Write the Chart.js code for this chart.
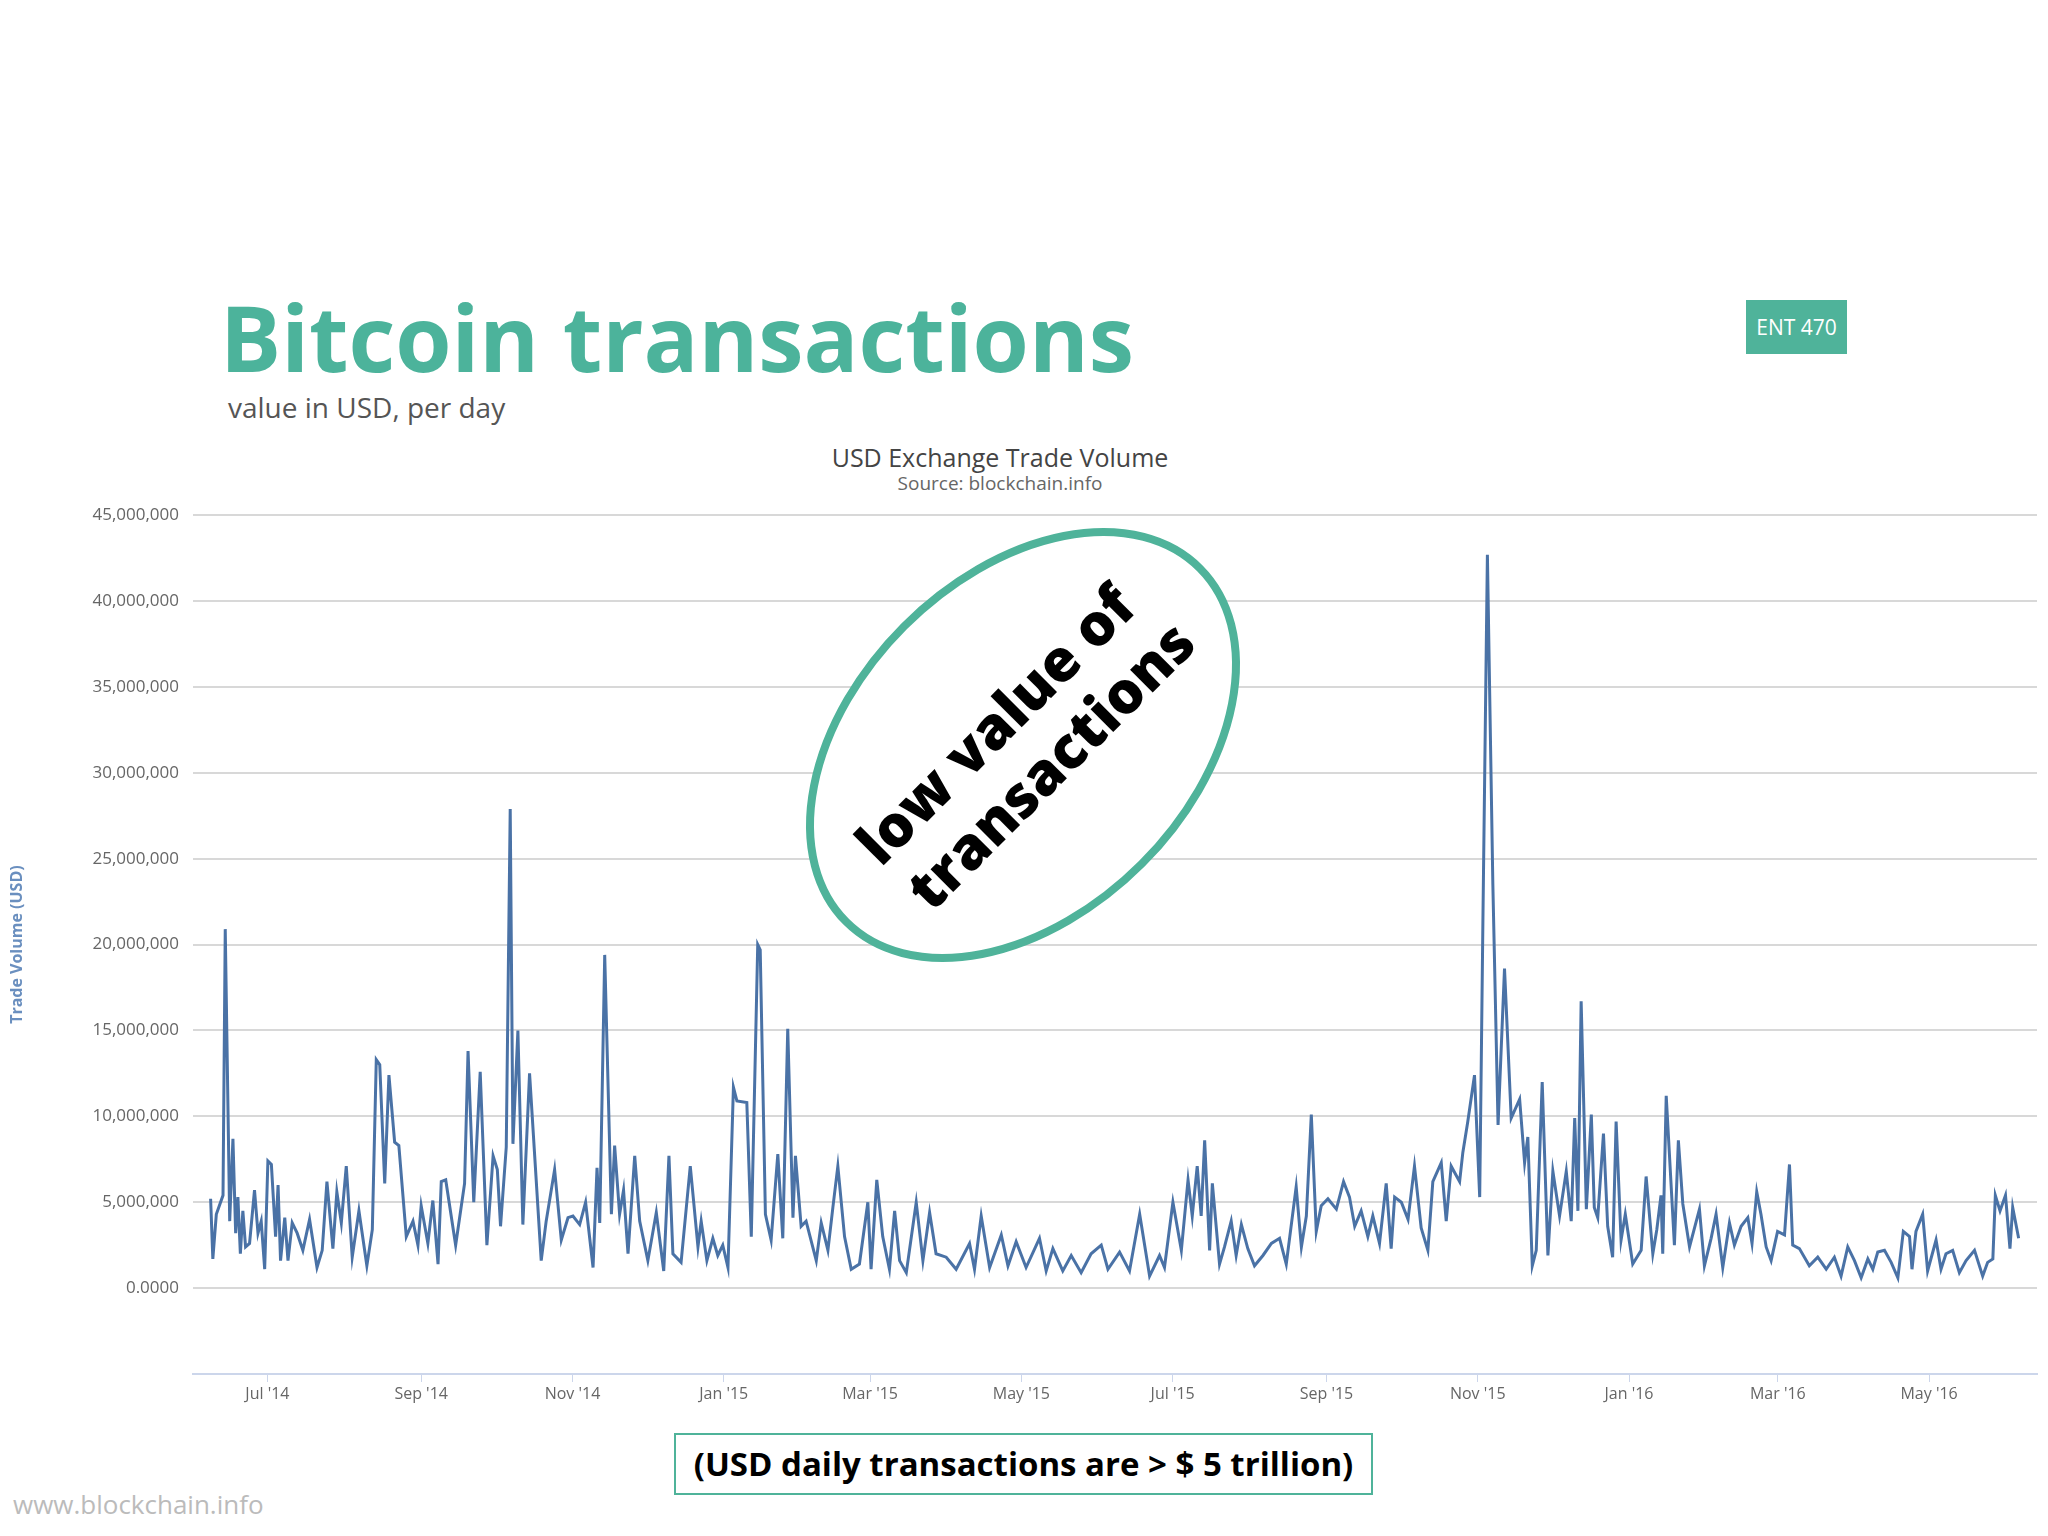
<!DOCTYPE html>
<html>
<head>
<meta charset="utf-8">
<script src="https://cdn.jsdelivr.net/npm/chart.js@4"></script>
<style>
  body { margin: 0; width: 2048px; height: 1536px; background: #fff; position: relative; font-family: "Open Sans", sans-serif; overflow: hidden; }
  .abs { position: absolute; white-space: nowrap; }
  #title { left: 220px; top: 292px; font-size: 91px; font-weight: 700; color: #4cb39b; line-height: 1; }
  #sub { left: 228px; top: 388px; font-size: 28px; color: #555; }
  #ent { left: 1746px; top: 300px; width: 101px; height: 54px; background: #4fb39a; color: #fff; font-size: 21px; line-height: 54px; text-align: center; }
  #ctitle { left: 0; width: 2000px; top: 440px; text-align: center; font-size: 25px; color: #444; }
  #csrc { left: 0; width: 2000px; top: 470px; text-align: center; font-size: 19px; color: #666; }
  #note { left: 674px; top: 1433px; width: 695px; height: 58px; border: 2px solid #4fb39a; text-align: center; font-size: 33px; font-weight: 700; line-height: 58px; color: #000; }
  #wm { left: 13px; top: 1486px; font-size: 26px; color: #bbb; }
  #wrap { position: absolute; left: 0; top: 491px; width: 2048px; height: 929px; }
</style>
</head>
<body>
<div class="abs" id="title">Bitcoin transactions</div>
<div class="abs" id="sub">value in USD, per day</div>
<div class="abs" id="ent">ENT 470</div>
<div class="abs" id="ctitle">USD Exchange Trade Volume</div>
<div class="abs" id="csrc">Source: blockchain.info</div>
<div id="wrap"><canvas id="chart"></canvas></div>
<div class="abs" id="note">(USD daily transactions are &gt; $ 5 trillion)</div>
<div class="abs" id="wm">www.blockchain.info</div>
<script>
// days since 2014-06-01
const days = [
  7.1, 8.0, 9.4, 12.1, 13.0, 14.8, 16.1, 17.2, 18.1, 19.1, 20.1, 21.2, 22.8, 24.8, 26.2, 27.5, 28.9,
  30.2, 31.6, 33.3, 34.3, 35.3, 37.0, 38.3, 40.0, 42.0, 44.3, 47.0, 50.0, 52.1, 54.0, 56.4, 58.0,
  59.8, 61.8, 64.2, 66.9, 70.1, 72.3, 73.9, 75.3, 77.3, 79.0, 81.3, 83.0, 86.0, 88.7, 90.7, 92.0,
  94.7, 96.7, 98.8, 100.1, 101.9, 105.9, 109.5, 110.9, 113.2, 115.8, 118.5, 121.0, 122.7, 124.0,
  126.3, 127.9, 129.0, 131.0, 133.0, 135.7, 140.4, 142.4, 145.8, 148.5, 151.2, 153.2, 155.9, 158.3,
  161.3, 162.9, 164.0, 166.0, 168.7, 170.0, 172.0, 173.6, 175.4, 178.1, 180.1, 183.4, 186.8, 189.8,
  191.9, 193.5, 196.8, 200.5, 203.6, 204.9, 207.2, 209.6, 211.6, 213.6, 215.7, 217.9, 219.3, 223.3,
  225.1, 227.7, 228.7, 230.8, 233.1, 235.8, 237.8, 239.8, 241.9, 242.9, 245.2, 247.2, 251.3, 253.3,
  256.0, 258.0, 260.0, 262.7, 265.4, 268.7, 272.1, 273.4, 275.7, 278.1, 280.8, 282.9, 284.9, 287.6,
  291.6, 294.3, 297.0, 299.6, 303.7, 307.7, 313.1, 315.1, 317.8, 321.2, 325.9, 328.6, 331.9, 335.9,
  341.3, 344.0, 346.7, 350.7, 354.1, 358.1, 362.1, 366.2, 368.9, 373.6, 377.6, 381.7, 385.7, 389.7,
  391.7, 395.1, 398.5, 401.2, 402.9, 404.9, 406.5, 407.9, 409.9, 411.0, 413.9, 415.9, 418.6, 420.6,
  422.7, 425.3, 428.0, 431.4, 434.8, 438.1, 440.8, 444.8, 446.9, 448.9, 450.9, 452.9, 454.9, 457.6,
  461.0, 463.9, 466.3, 468.4, 471.0, 473.7, 475.7, 478.4, 481.1, 483.1, 484.5, 487.2, 489.9, 492.5,
  495.2, 497.9, 499.9, 503.3, 505.3, 507.3, 510.7, 512.0, 514.0, 516.7, 518.8, 520.1, 521.9, 524.1,
  526.2, 528.8, 531.5, 534.9, 536.9, 538.2, 540.0, 541.6, 544.0, 546.3, 548.3, 551.0, 553.7, 555.7,
  557.1, 558.4, 559.7, 561.8, 563.8, 565.0, 566.4, 568.7, 570.4, 572.4, 573.8, 575.8, 577.5, 580.5,
  583.9, 585.9, 588.6, 590.2, 591.9, 592.6, 594.0, 597.3, 598.9, 600.7, 603.4, 607.4, 609.4, 612.1,
  614.1, 616.8, 619.5, 621.5, 624.2, 626.9, 628.6, 630.5, 632.2, 634.3, 636.3, 638.9, 641.7, 643.7,
  645.0, 647.7, 651.7, 655.1, 658.5, 661.8, 664.5, 667.2, 669.9, 672.6, 675.3, 677.3, 679.3, 682.0,
  684.7, 687.4, 689.6, 692.1, 693.1, 694.7, 697.4, 699.4, 702.8, 704.8, 706.8, 709.5, 712.2, 714.9,
  718.3, 721.6, 723.6, 725.7, 726.7, 728.6, 730.8, 732.6, 733.7, 736.1
];
// trade volume, millions of USD
const volume = [
  5.2, 1.7, 4.3, 5.4, 20.9, 3.9, 8.7, 3.2, 5.3, 2.0, 4.5, 2.4, 2.6, 5.7, 3.2, 3.9, 1.1,
  7.4, 7.2, 3.0, 6.0, 1.6, 4.1, 1.6, 3.8, 3.2, 2.2, 4.0, 1.2, 2.2, 6.2, 2.3, 5.6,
  3.8, 7.1, 1.8, 4.5, 1.3, 3.4, 13.3, 13.0, 6.1, 12.4, 8.5, 8.3, 3.0, 3.9, 2.5, 4.8,
  2.6, 5.1, 1.4, 6.2, 6.3, 2.5, 6.1, 13.8, 5.0, 12.6, 2.5, 7.7, 6.9, 3.6,
  8.2, 27.9, 8.4, 15.0, 3.7, 12.5, 1.6, 3.9, 6.9, 2.8, 4.1, 4.2, 3.7, 5.0,
  1.2, 7.0, 3.8, 19.4, 4.3, 8.3, 4.3, 5.7, 2.0, 7.7, 3.9, 1.6, 4.4, 1.0,
  7.7, 2.0, 1.5, 7.1, 2.4, 3.9, 1.6, 2.9, 1.9, 2.5, 1.2, 11.7, 10.9, 10.8,
  3.0, 20.0, 19.7, 4.3, 2.8, 7.8, 2.9, 15.1, 4.1, 7.7, 3.6, 3.9, 1.6, 3.8,
  2.2, 4.7, 7.1, 3.0, 1.1, 1.4, 5.0, 1.1, 6.3, 3.0, 1.1, 4.5, 1.6, 0.9,
  5.0, 1.6, 4.4, 2.0, 1.8, 1.1, 2.6, 1.1, 4.2, 1.2, 3.1, 1.3, 2.7, 1.2,
  2.9, 1.0, 2.3, 1.0, 1.9, 0.9, 2.0, 2.5, 1.1, 2.1, 1.0, 4.3, 0.7, 1.9,
  1.2, 5.0, 2.2, 6.3, 4.2, 7.1, 4.2, 8.6, 2.2, 6.1, 1.4, 2.4, 3.9, 1.9,
  3.7, 2.3, 1.3, 1.9, 2.6, 2.9, 1.4, 5.9, 2.4, 4.2, 10.1, 3.3, 4.8, 5.2,
  4.6, 6.2, 5.3, 3.6, 4.5, 3.0, 4.2, 2.6, 6.1, 2.3, 5.3, 5.0, 4.0, 7.1,
  3.5, 2.2, 6.2, 7.3, 3.9, 7.1, 6.2, 7.9, 9.7, 12.4, 5.3, 21.5, 42.7, 23.5,
  9.5, 18.6, 9.9, 11.0, 7.3, 8.8, 1.3, 2.2, 12.0, 1.9, 6.8, 4.2, 6.8, 3.9,
  9.9, 4.5, 16.7, 4.6, 10.1, 4.7, 4.1, 9.0, 3.6, 1.8, 9.7, 2.8, 4.3, 1.4,
  2.2, 6.5, 2.0, 3.4, 5.4, 2.0, 11.2, 2.5, 8.6, 4.9, 2.4, 4.6, 1.3, 2.9,
  4.3, 1.2, 3.8, 2.5, 3.6, 4.1, 2.6, 5.6, 4.3, 2.4, 1.6, 3.3, 3.1, 7.2,
  2.5, 2.3, 1.3, 1.8, 1.1, 1.8, 0.7, 2.4, 1.6, 0.6, 1.7, 1.1, 2.1, 2.2,
  1.5, 0.6, 3.3, 3.0, 1.1, 3.3, 4.3, 1.0, 2.8, 1.1, 2.0, 2.2, 0.9, 1.6,
  2.2, 0.7, 1.5, 1.7, 5.4, 4.5, 5.4, 2.3, 4.7, 2.9
];
const tickDays = [30, 92, 153, 214, 273, 334, 395, 457, 518, 579, 639, 700];
const tickLabels = ["Jul '14", "Sep '14", "Nov '14", "Jan '15", "Mar '15", "May '15", "Jul '15", "Sep '15", "Nov '15", "Jan '16", "Mar '16", "May '16"];

const teal = '#4fb39a';

// the hand-drawn ellipse with its note
const notePlugin = {
  id: 'note',
  afterDraw(chart) {
    const ctx = chart.ctx;
    const top = chart.canvas.getBoundingClientRect().top + window.scrollY;
    ctx.save();
    ctx.translate(1023, 745 - top);
    ctx.rotate(-Math.PI / 4);
    ctx.fillStyle = '#fff';
    ctx.strokeStyle = teal;
    ctx.lineWidth = 8;
    ctx.beginPath();
    ctx.ellipse(0, 0, 250, 168, 0, 0, Math.PI * 2);
    ctx.fill();
    ctx.stroke();
    ctx.fillStyle = '#000';
    ctx.font = '800 58px "Open Sans"';
    ctx.textAlign = 'center';
    ctx.textBaseline = 'middle';
    ctx.fillText('low value of', -5, -30);
    ctx.fillText('transactions', 5, 38);
    ctx.restore();
  }
};

new Chart(document.getElementById('chart'), {
  type: 'line',
  data: {
    datasets: [{
      data: days.map((d, i) => ({ x: d, y: volume[i] * 1e6 })),
      borderColor: '#4a72a6',
      borderWidth: 3,
      pointRadius: 0,
      tension: 0
    }]
  },
  options: {
    responsive: true,
    maintainAspectRatio: false,
    animation: false,
    layout: { padding: { top: 5, right: 11, left: 0, bottom: 0 } },
    plugins: { legend: { display: false }, tooltip: { enabled: false } },
    scales: {
      x: {
        type: 'linear',
        min: 0,
        max: 743.5,
        afterBuildTicks: (s) => { s.ticks = tickDays.map(v => ({ value: v })); },
        afterFit: (s) => { s.height = 46; },
        ticks: {
          callback: (v) => tickLabels[tickDays.indexOf(v)],
          color: '#666',
          font: { family: 'Open Sans', size: 16 },
          maxRotation: 0,
          autoSkip: false
        },
        grid: { drawOnChartArea: false, drawTicks: true, tickLength: 8, color: '#ccd6eb' },
        border: { color: '#ccd6eb', width: 2 }
      },
      y: {
        min: -5e6,
        max: 45e6,
        afterFit: (s) => { s.width = 193; },
        ticks: {
          stepSize: 5e6,
          color: '#666',
          font: { family: 'Open Sans', size: 17 },
          padding: 14,
          callback: (v) => v < 0 ? '' : (v === 0 ? '0.0000' : v.toLocaleString('en-US'))
        },
        grid: {
          color: (c) => c.tick && c.tick.value < 0 ? 'rgba(0,0,0,0)' : '#d8d8d8',
          lineWidth: 2,
          drawTicks: false
        },
        border: { display: false },
        title: {
          display: true,
          text: 'Trade Volume (USD)',
          color: '#6a8fbf',
          font: { family: 'Open Sans', size: 16, weight: 'bold' },
          padding: { top: 8, bottom: 6 }
        }
      }
    }
  },
  plugins: [notePlugin]
});
</script>
</body>
</html>
